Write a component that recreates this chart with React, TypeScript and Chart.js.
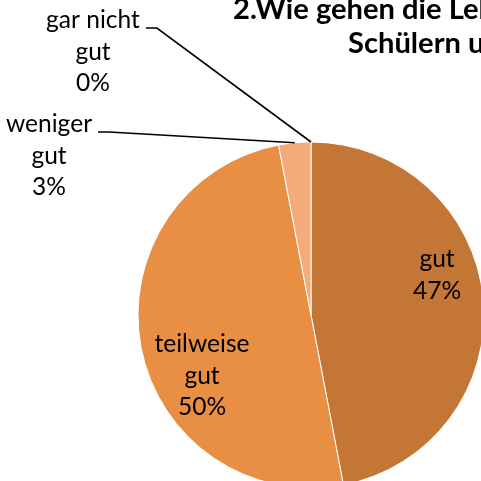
import React, { useEffect, useRef } from 'react';
import { Chart, registerables } from 'chart.js';

Chart.register(...registerables);

const categories = ['gut', 'teilweise gut', 'weniger gut', 'gar nicht gut'];
const values = [47, 50, 3, 0];
const percentLabels = ['47%', '50%', '3%', '0%'];
const labelLines = [
  ['gut', '47%'],
  ['teilweise', 'gut', '50%'],
  ['weniger', 'gut', '3%'],
  ['gar nicht', 'gut', '0%'],
];
const titleLines = ['2.Wie gehen die Lehrer mit den', 'Schülern um?'];
const sliceColors = ['#C47636', '#E88F44', '#F4AB7A', '#F9CBAA'];

// label placement relative to pie centre (dx = centre of text block, dy = first baseline)
const labelOffsets = [
  { dx: 126, dy: -48, leader: false },
  { dx: -109, dy: 37, leader: false },
  { dx: -262, dy: -183, leader: true },
  { dx: -218, dy: -287, leader: true },
];

const FAMILY = 'Lato, "Open Sans", sans-serif';

function fitSize(ctx: CanvasRenderingContext2D, text: string, target: number, weight: string) {
  ctx.font = `${weight} 100px ${FAMILY}`;
  const w = ctx.measureText(text).width;
  return (100 * target) / w;
}

const overlayPlugin = {
  id: 'overlay',
  afterDraw(chart: any) {
    const ctx: CanvasRenderingContext2D = chart.ctx;
    const meta = chart.getDatasetMeta(0);
    if (!meta || !meta.data.length) return;
    const first = meta.data[0] as any;
    const cx = first.x;
    const cy = first.y;
    ctx.save();
    ctx.fillStyle = '#000';
    ctx.textBaseline = 'alphabetic';

    // title
    const tSize = fitSize(ctx, 'Schülern', 113, 'bold');
    ctx.font = `bold ${tSize}px ${FAMILY}`;
    ctx.textAlign = 'left';
    ctx.fillText(titleLines[0], 233, 19);
    ctx.fillText(titleLines[1], 348, 53);

    // labels
    const lSize = fitSize(ctx, 'teilweise', 95, 'normal');
    ctx.font = `normal ${lSize}px ${FAMILY}`;
    const lineH = 31.7;
    meta.data.forEach((arc: any, i: number) => {
      const off = labelOffsets[i];
      const lines = labelLines[i];
      const lx = cx + off.dx;
      const ly = cy + off.dy;
      ctx.textAlign = 'center';
      lines.forEach((t, k) => ctx.fillText(t, lx, ly + k * lineH));
      if (off.leader) {
        const w0 = ctx.measureText(lines[0]).width;
        const sx = lx + w0 / 2 + 6;
        const sy = ly;
        const mid = (arc.startAngle + arc.endAngle) / 2;
        const ex = arc.x + Math.cos(mid) * arc.outerRadius;
        const ey = arc.y + Math.sin(mid) * arc.outerRadius;
        ctx.beginPath();
        ctx.strokeStyle = '#000';
        ctx.lineWidth = 1.6;
        ctx.moveTo(sx, sy);
        ctx.lineTo(sx + 11, sy);
        ctx.lineTo(ex, ey);
        ctx.stroke();
      }
    });
    ctx.restore();
  },
};

export default function App() {
  const ref = useRef<HTMLCanvasElement | null>(null);
  useEffect(() => {
    if (!ref.current) return;
    const chart = new Chart(ref.current, {
      type: 'pie',
      data: {
        labels: categories.map((c, i) => `${c} ${percentLabels[i]}`),
        datasets: [
          {
            data: values,
            backgroundColor: sliceColors,
            borderColor: '#ffffff',
            borderWidth: 1,
          },
        ],
      },
      options: {
        responsive: false,
        animation: false,
        radius: 173,
        layout: { padding: { left: 138, right: 16, top: 142, bottom: 12 } },
        plugins: {
          legend: { display: false },
          tooltip: { enabled: false },
          title: { display: false },
        },
      } as any,
      plugins: [overlayPlugin],
    });
    return () => chart.destroy();
  }, []);
  return (
    <div
      style={{
        position: 'absolute',
        left: 0,
        top: 0,
        width: 481,
        height: 481,
        overflow: 'hidden',
        background: '#fff',
      }}
    >
      <canvas ref={ref} width={500} height={500} style={{ display: 'block' }} />
    </div>
  );
}
